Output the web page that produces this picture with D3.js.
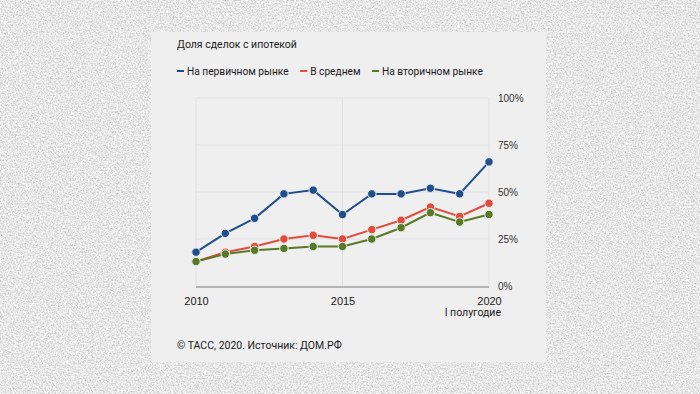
<!DOCTYPE html>
<html>
<head>
<meta charset="utf-8">
<script src="https://cdn.jsdelivr.net/npm/d3@7"></script>
<style>
  body { margin: 0; background: #c9c9c9; }
  svg { display: block; font-family: Roboto, "Noto Sans", sans-serif; }
  .grid line { stroke: #e1e1e1; stroke-width: 1; }
  .y-axis text { font-size: 10px; fill: #333; }
  .x-axis text { font-size: 11px; fill: #1a1a1a; }
</style>
</head>
<body>
<div id="chart"></div>
<script>
// data
const years = [2010, 2011, 2012, 2013, 2014, 2015, 2016, 2017, 2018, 2019, 2020];
const primaryMarket = [18, 28, 36, 49, 51, 38, 49, 49, 52, 49, 66];
const average = [13, 18, 21, 25, 27, 25, 30, 35, 42, 37, 44];
const secondaryMarket = [13, 17, 19, 20, 21, 21, 25, 31, 39, 34, 38];
const yTicks = [0, 25, 50, 75, 100];
const xTicks = [2010, 2015, 2020];

const seriesList = [
  {name: 'На первичном рынке', values: primaryMarket, color: '#1f4e8d'},
  {name: 'В среднем', values: average, color: '#e34b3c'},
  {name: 'На вторичном рынке', values: secondaryMarket, color: '#587a27'}
];

const width = 700, height = 394;
const margin = {top: 98, left: 196};

const svg = d3.select('#chart').append('svg')
  .attr('width', width)
  .attr('height', height);

// concrete-like background
const defs = svg.append('defs');
const noise = defs.append('filter').attr('id', 'concrete')
  .attr('x', 0).attr('y', 0).attr('width', '100%').attr('height', '100%');
noise.append('feTurbulence')
  .attr('type', 'fractalNoise').attr('baseFrequency', 0.6)
  .attr('numOctaves', 3).attr('seed', 7);
noise.append('feColorMatrix')
  .attr('type', 'matrix')
  .attr('values', '0.75 0 0 0 0.43  0.75 0 0 0 0.43  0.75 0 0 0 0.43  0 0 0 0 1');

svg.append('rect').attr('width', width).attr('height', height).attr('fill', '#cbcbcb');
svg.append('rect').attr('width', width).attr('height', height)
  .attr('filter', 'url(#concrete)');

// card
svg.append('rect')
  .attr('x', 151).attr('y', 32)
  .attr('width', 395).attr('height', 330)
  .attr('fill', '#efefef');

const x = d3.scaleLinear().domain([2010, 2020]).range([0, 293]);
const y = d3.scaleLinear().domain([0, 100]).range([188, 0]);

const chart = svg.append('g')
  .attr('transform', `translate(${margin.left},${margin.top})`);

// grid
const grid = chart.append('g').attr('class', 'grid');
grid.selectAll('.h').data(yTicks.filter(d => d > 0)).join('line')
  .attr('class', 'h')
  .attr('x1', 0).attr('x2', x(2020))
  .attr('y1', d => y(d)).attr('y2', d => y(d));
grid.selectAll('.v').data(xTicks).join('line')
  .attr('class', 'v')
  .attr('x1', d => x(d)).attr('x2', d => x(d))
  .attr('y1', y(100)).attr('y2', y(0));

// baseline
chart.append('line')
  .attr('x1', 0).attr('x2', x(2020))
  .attr('y1', y(0) + 1).attr('y2', y(0) + 1)
  .attr('stroke', '#b4b4b4').attr('stroke-width', 2);

// y axis on right
const yAxis = d3.axisRight(y).tickValues(yTicks).tickSize(0).tickPadding(9)
  .tickFormat(d => d + '%');
chart.append('g').attr('class', 'y-axis')
  .attr('transform', `translate(${x(2020)},0)`)
  .call(yAxis)
  .call(g => g.select('.domain').remove());

// x axis
const xAxis = d3.axisBottom(x).tickValues(xTicks).tickSize(0).tickPadding(11)
  .tickFormat(d3.format('d'));
chart.append('g').attr('class', 'x-axis')
  .attr('transform', `translate(0,${y(0)})`)
  .call(xAxis)
  .call(g => g.select('.domain').remove());

chart.append('text')
  .attr('x', x(2020) + 12).attr('y', y(0) + 30)
  .attr('text-anchor', 'end')
  .attr('font-size', 10.5).attr('fill', '#1a1a1a')
  .text('I полугодие');

// lines
const line = d3.line()
  .x((d, i) => x(years[i]))
  .y(d => y(d));

seriesList.forEach(s => {
  chart.append('path')
    .datum(s.values)
    .attr('fill', 'none')
    .attr('stroke', s.color)
    .attr('stroke-width', 2)
    .attr('d', line);
  chart.selectAll(null).data(s.values).join('circle')
    .attr('cx', (d, i) => x(years[i]))
    .attr('cy', d => y(d))
    .attr('r', 4.2)
    .attr('fill', s.color)
    .attr('stroke', '#efefef')
    .attr('stroke-width', 1);
});

// title
svg.append('text')
  .attr('x', 177).attr('y', 48)
  .attr('font-size', 10.5).attr('fill', '#1a1a1a')
  .text('Доля сделок с ипотекой');

// legend
let lx = 177;
const legend = svg.append('g');
seriesList.forEach(s => {
  const g = legend.append('g').attr('transform', `translate(${lx},0)`);
  g.append('line')
    .attr('x1', 0).attr('x2', 7).attr('y1', 71).attr('y2', 71)
    .attr('stroke', s.color).attr('stroke-width', 2);
  const t = g.append('text')
    .attr('x', 10).attr('y', 75)
    .attr('font-size', 10.2).attr('fill', '#1a1a1a')
    .text(s.name);
  lx += 10 + t.node().getComputedTextLength() + 11.5;
});

// footer
svg.append('text')
  .attr('x', 177).attr('y', 349)
  .attr('font-size', 10.5).attr('fill', '#1a1a1a')
  .text('© ТАСС, 2020. Источник: ДОМ.РФ');
</script>
</body>
</html>
